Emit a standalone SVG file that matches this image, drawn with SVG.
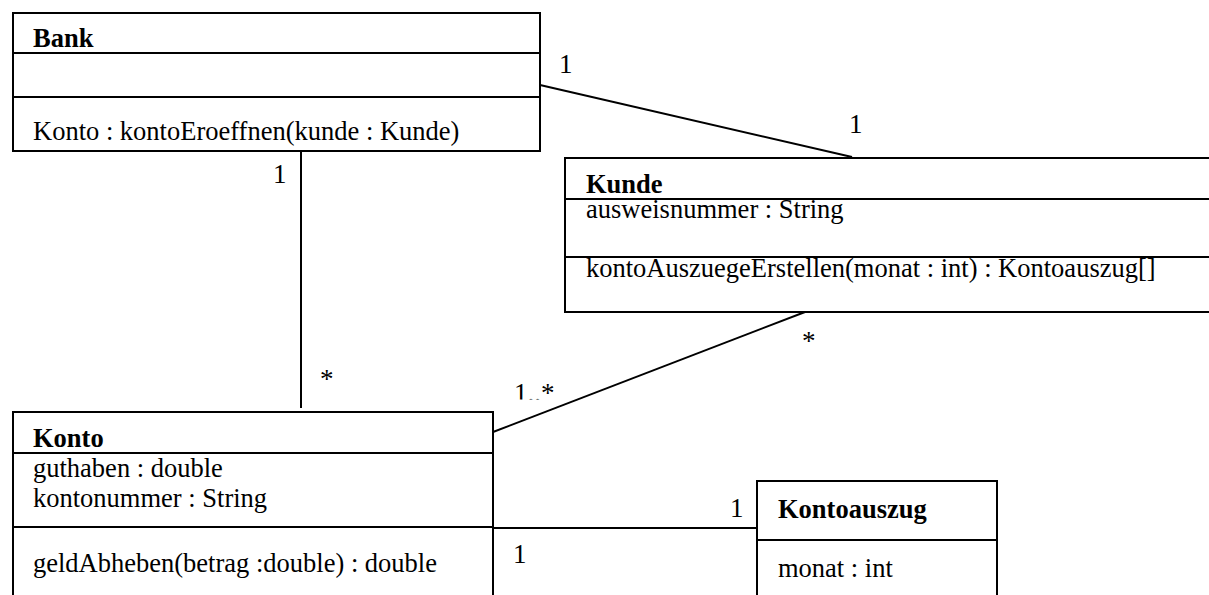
<svg xmlns="http://www.w3.org/2000/svg" width="1209" height="595" viewBox="0 0 1209 595">
  <defs>
    <style>
      .box { fill: #fff; stroke: #000; stroke-width: 2; }
      .div { stroke: #000; stroke-width: 2; fill: none; }
      .assoc { stroke: #000; stroke-width: 2; fill: none; }
      text { font-family: "Liberation Serif", "Times New Roman", serif; font-size: 26.5px; fill: #000; }
      .name { font-weight: bold; }
      .mult { font-size: 27px; }
    </style>
    <clipPath id="clip-mult">
      <rect x="500" y="360" width="60" height="39.5"/>
    </clipPath>
  </defs>
  <rect width="1209" height="595" fill="#fff"/>

  <!-- associations -->
  <g id="connectors">
    <line class="assoc" x1="540" y1="85" x2="852" y2="157"/>
    <line class="assoc" x1="301" y1="151" x2="301" y2="408"/>
    <line class="assoc" x1="493" y1="432" x2="805" y2="312"/>
    <line class="assoc" x1="493" y1="528" x2="757" y2="528"/>
    <text class="mult" x="559" y="73">1</text>
    <text class="mult" x="849" y="133">1</text>
    <text class="mult" x="273" y="183">1</text>
    <text class="mult" x="320" y="388">*</text>
    <text class="mult" x="802" y="350">*</text>
    <text class="mult" x="514" y="402" clip-path="url(#clip-mult)">1..*</text>
    <text class="mult" x="730" y="517">1</text>
    <text class="mult" x="513" y="563">1</text>
  </g>

  <!-- class Bank -->
  <g id="bank">
    <rect class="box" x="13" y="13" width="527" height="138"/>
    <line class="div" x1="13" y1="53" x2="540" y2="53"/>
    <line class="div" x1="13" y1="97" x2="540" y2="97"/>
    <text class="name" x="33" y="47">Bank</text>
    <text x="33" y="140">Konto : kontoEroeffnen(kunde : Kunde)</text>
  </g>

  <!-- class Kunde (runs past the right edge) -->
  <g id="kunde">
    <path class="div" d="M1212,158 H565 V312 H1212"/>
    <line class="div" x1="565" y1="199" x2="1209" y2="199"/>
    <line class="div" x1="565" y1="257" x2="1209" y2="257"/>
    <text class="name" x="586" y="193">Kunde</text>
    <text x="586" y="218">ausweisnummer : String</text>
    <text x="586" y="277">kontoAuszuegeErstellen(monat : int) : Kontoauszug[]</text>
  </g>

  <!-- class Konto (runs past the bottom edge) -->
  <g id="konto">
    <path class="div" d="M13,598 V412 H493 V598"/>
    <line class="div" x1="13" y1="453" x2="493" y2="453"/>
    <line class="div" x1="13" y1="527" x2="493" y2="527"/>
    <text class="name" x="33" y="447">Konto</text>
    <text x="33" y="477">guthaben : double</text>
    <text x="33" y="507">kontonummer : String</text>
    <text x="33" y="572">geldAbheben(betrag :double) : double</text>
  </g>

  <!-- class Kontoauszug (runs past the bottom edge) -->
  <g id="kontoauszug">
    <path class="div" d="M757,598 V481 H997 V598"/>
    <line class="div" x1="757" y1="540" x2="997" y2="540"/>
    <text class="name" x="778" y="518">Kontoauszug</text>
    <text x="778" y="577">monat : int</text>
  </g>
</svg>
